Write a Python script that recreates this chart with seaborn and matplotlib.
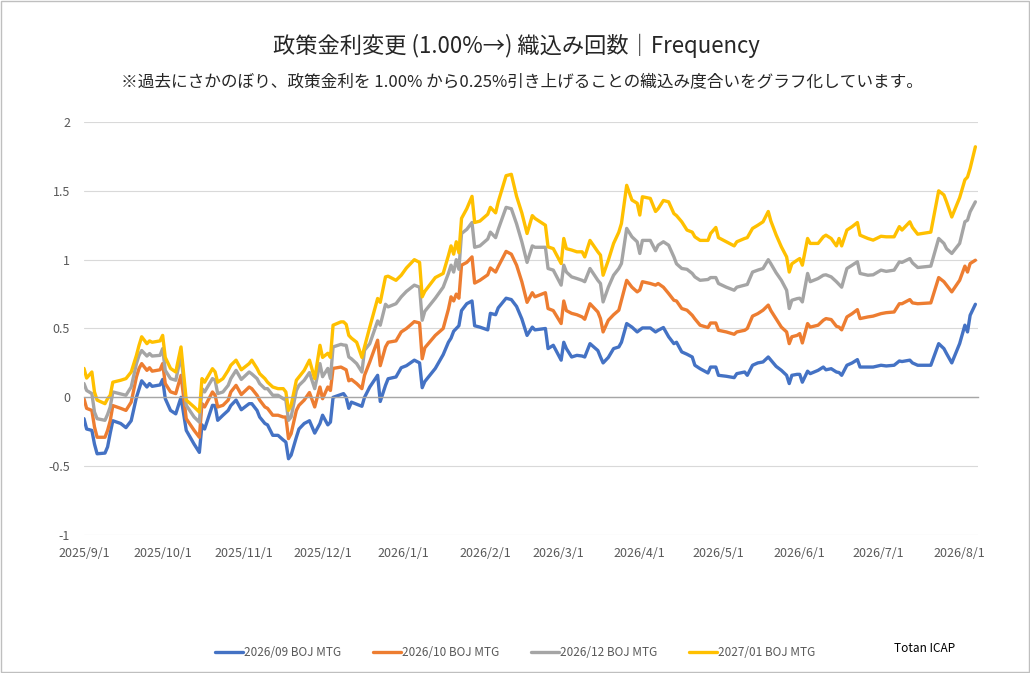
import matplotlib
matplotlib.use('Agg')
import matplotlib.pyplot as plt
import matplotlib.dates as mdates
import seaborn as sns
import pandas as pd
from matplotlib.patches import Rectangle

# ---------------- data ----------------
dates = [
    '2025-09-01', '2025-09-02', '2025-09-04', '2025-09-05', '2025-09-06', '2025-09-09', '2025-09-10',
    '2025-09-11', '2025-09-12', '2025-09-15', '2025-09-17', '2025-09-19', '2025-09-21', '2025-09-22',
    '2025-09-23', '2025-09-25', '2025-09-26', '2025-09-27', '2025-09-30', '2025-10-01', '2025-10-02',
    '2025-10-04', '2025-10-06', '2025-10-08', '2025-10-10', '2025-10-13', '2025-10-15',
    '2025-10-16', '2025-10-17', '2025-10-20', '2025-10-21', '2025-10-22', '2025-10-24', '2025-10-26',
    '2025-10-27', '2025-10-29', '2025-10-31', '2025-11-03', '2025-11-04', '2025-11-06', '2025-11-07',
    '2025-11-09', '2025-11-10', '2025-11-12', '2025-11-14', '2025-11-16', '2025-11-17', '2025-11-18',
    '2025-11-19', '2025-11-21', '2025-11-22', '2025-11-24', '2025-11-26',
    '2025-11-28', '2025-11-30', '2025-12-01', '2025-12-03', '2025-12-04', '2025-12-05', '2025-12-08',
    '2025-12-09', '2025-12-10', '2025-12-11', '2025-12-12', '2025-12-14', '2025-12-16', '2025-12-17',
    '2025-12-19', '2025-12-22', '2025-12-23', '2025-12-25', '2025-12-26', '2025-12-29', '2025-12-31',
    '2026-01-02', '2026-01-05', '2026-01-07', '2026-01-08', '2026-01-09',
    '2026-01-13', '2026-01-16', '2026-01-18', '2026-01-19', '2026-01-20', '2026-01-21', '2026-01-22',
    '2026-01-23', '2026-01-25', '2026-01-27', '2026-01-28', '2026-01-30', '2026-02-02', '2026-02-03',
    '2026-02-05', '2026-02-06', '2026-02-09', '2026-02-11', '2026-02-13', '2026-02-15', '2026-02-17',
    '2026-02-19', '2026-02-20', '2026-02-24',
    '2026-02-25', '2026-02-27', '2026-03-02', '2026-03-03', '2026-03-04', '2026-03-06', '2026-03-08',
    '2026-03-10', '2026-03-11', '2026-03-13', '2026-03-16', '2026-03-17', '2026-03-18', '2026-03-20',
    '2026-03-22', '2026-03-24', '2026-03-25', '2026-03-27', '2026-03-29', '2026-03-31', '2026-04-01',
    '2026-04-02', '2026-04-05', '2026-04-07', '2026-04-08',
    '2026-04-10', '2026-04-12', '2026-04-14', '2026-04-15', '2026-04-17', '2026-04-19', '2026-04-21',
    '2026-04-22', '2026-04-24', '2026-04-27', '2026-04-28', '2026-04-30', '2026-05-01', '2026-05-04',
    '2026-05-07', '2026-05-08', '2026-05-11', '2026-05-12', '2026-05-14', '2026-05-16', '2026-05-18',
    '2026-05-20', '2026-05-21', '2026-05-23',
    '2026-05-25', '2026-05-27', '2026-05-28', '2026-05-29', '2026-05-31', '2026-06-01', '2026-06-02',
    '2026-06-04', '2026-06-05', '2026-06-08', '2026-06-10', '2026-06-11', '2026-06-13', '2026-06-15',
    '2026-06-16', '2026-06-17', '2026-06-19', '2026-06-21', '2026-06-23', '2026-06-24', '2026-06-27',
    '2026-06-29', '2026-07-02',
    '2026-07-04', '2026-07-07', '2026-07-09', '2026-07-10', '2026-07-13', '2026-07-14', '2026-07-16',
    '2026-07-21', '2026-07-24', '2026-07-26', '2026-07-27', '2026-07-29', '2026-08-01', '2026-08-03',
    '2026-08-04', '2026-08-05', '2026-08-07',
]

mtg_2026_09 = [
    -0.155, -0.23, -0.24, -0.34, -0.41, -0.405, -0.36,
    -0.26, -0.17, -0.19, -0.22, -0.17, 0.0, 0.06,
    0.12, 0.075, 0.10, 0.08, 0.09, 0.13, -0.01,
    -0.095, -0.12, 0.0, -0.24, -0.34, -0.40,
    -0.20, -0.23, -0.058, -0.06, -0.167, -0.13, -0.095,
    -0.06, -0.02, -0.09, -0.046, -0.046, -0.095, -0.143,
    -0.19, -0.20, -0.276, -0.276, -0.31, -0.325, -0.446,
    -0.42, -0.29, -0.23, -0.19, -0.17,
    -0.26, -0.19, -0.13, -0.20, -0.18, 0.0, 0.02,
    0.027, 0.0, -0.08, -0.035, -0.05, -0.065, 0.0,
    0.075, 0.16, -0.03, 0.087, 0.135, 0.148, 0.215,
    0.23, 0.27, 0.25, 0.07, 0.115,
    0.21, 0.31, 0.40, 0.43, 0.48, 0.50, 0.52,
    0.63, 0.68, 0.70, 0.52, 0.51, 0.49, 0.61,
    0.60, 0.65, 0.72, 0.71, 0.66, 0.57, 0.45,
    0.51, 0.49, 0.50,
    0.354, 0.378, 0.27, 0.40, 0.354, 0.293, 0.305,
    0.30, 0.293, 0.39, 0.34, 0.293, 0.25, 0.29,
    0.354, 0.366, 0.40, 0.536, 0.51, 0.475, 0.49,
    0.504, 0.504, 0.475, 0.487,
    0.507, 0.44, 0.39, 0.40, 0.33, 0.313, 0.293,
    0.233, 0.208, 0.177, 0.22, 0.22, 0.16, 0.153,
    0.143, 0.172, 0.184, 0.16, 0.233, 0.25, 0.257,
    0.293, 0.27, 0.225,
    0.196, 0.16, 0.10, 0.16, 0.167, 0.167, 0.11,
    0.19, 0.172, 0.196, 0.22, 0.20, 0.208, 0.184,
    0.18, 0.16, 0.233, 0.25, 0.274, 0.22, 0.22,
    0.22, 0.233,
    0.228, 0.233, 0.264, 0.26, 0.27, 0.25, 0.233,
    0.233, 0.39, 0.354, 0.318, 0.25, 0.39, 0.524,
    0.475, 0.596, 0.676,
]

mtg_2026_10 = [
    -0.01, -0.08, -0.095, -0.215, -0.29, -0.29, -0.24,
    -0.17, -0.06, -0.08, -0.095, -0.035, 0.148, 0.21,
    0.245, 0.196, 0.215, 0.19, 0.20, 0.245, 0.10,
    0.04, 0.027, 0.16, -0.155, -0.24, -0.29,
    -0.046, -0.07, 0.039, 0.015, -0.07, -0.058, -0.02,
    0.039, 0.087, 0.02, 0.075, 0.063, 0.015, -0.02,
    -0.07, -0.08, -0.13, -0.13, -0.143, -0.143, -0.30,
    -0.264, -0.095, -0.058, -0.02, 0.035,
    -0.07, 0.075, -0.01, 0.075, 0.05, 0.21, 0.22,
    0.21, 0.20, 0.12, 0.13, 0.10, 0.063, 0.16,
    0.257, 0.415, 0.23, 0.366, 0.40, 0.41, 0.475,
    0.50, 0.55, 0.54, 0.28, 0.36,
    0.45, 0.50, 0.64, 0.73, 0.70, 0.75, 0.72,
    0.96, 0.98, 1.02, 0.83, 0.85, 0.89, 0.94,
    0.91, 0.95, 1.06, 1.04, 0.96, 0.84, 0.69,
    0.76, 0.73, 0.76,
    0.645, 0.63, 0.536, 0.70, 0.63, 0.61, 0.60,
    0.584, 0.567, 0.68, 0.62, 0.572, 0.475, 0.56,
    0.60, 0.633, 0.705, 0.85, 0.80, 0.766, 0.78,
    0.84, 0.827, 0.815, 0.827,
    0.80, 0.754, 0.705, 0.70, 0.645, 0.633, 0.596,
    0.57, 0.524, 0.507, 0.54, 0.54, 0.487, 0.475,
    0.458, 0.475, 0.487, 0.50, 0.59, 0.608, 0.633,
    0.67, 0.63, 0.57,
    0.51, 0.475, 0.39, 0.44, 0.45, 0.463, 0.395,
    0.536, 0.51, 0.524, 0.56, 0.572, 0.565, 0.516,
    0.51, 0.49, 0.584, 0.608, 0.637, 0.572, 0.584,
    0.59, 0.608,
    0.615, 0.62, 0.68, 0.68, 0.71, 0.686, 0.68,
    0.686, 0.87, 0.84, 0.815, 0.766, 0.85, 0.953,
    0.91, 0.972, 0.996,
]

mtg_2026_12 = [
    0.10, 0.05, 0.027, -0.107, -0.155, -0.167, -0.124,
    -0.07, 0.039, 0.025, 0.015, 0.075, 0.245, 0.305,
    0.34, 0.30, 0.318, 0.30, 0.305, 0.354, 0.196,
    0.136, 0.124, 0.305, -0.058, -0.143, -0.18,
    0.063, 0.039, 0.136, 0.124, 0.027, 0.039, 0.087,
    0.136, 0.196, 0.13, 0.184, 0.17, 0.136, 0.10,
    0.063, 0.063, 0.015, 0.015, -0.01, -0.02, -0.167,
    -0.143, 0.05, 0.087, 0.124, 0.18,
    0.063, 0.245, 0.15, 0.21, 0.136, 0.366, 0.385,
    0.38, 0.378, 0.293, 0.28, 0.245, 0.184, 0.342,
    0.39, 0.555, 0.524, 0.676, 0.657, 0.68, 0.73,
    0.77, 0.815, 0.80, 0.56, 0.625,
    0.72, 0.80, 0.90, 0.96, 0.91, 1.00, 0.93,
    1.19, 1.22, 1.27, 1.09, 1.10, 1.15, 1.20,
    1.16, 1.22, 1.38, 1.37, 1.26, 1.13, 0.98,
    1.10, 1.09, 1.09,
    0.936, 0.924, 0.815, 0.96, 0.91, 0.875, 0.863,
    0.85, 0.84, 0.936, 0.85, 0.827, 0.693, 0.80,
    0.887, 0.936, 0.972, 1.227, 1.166, 1.13, 1.045,
    1.14, 1.14, 1.065, 1.105,
    1.13, 1.105, 1.02, 0.97, 0.936, 0.93, 0.90,
    0.875, 0.85, 0.856, 0.87, 0.87, 0.827, 0.80,
    0.778, 0.80, 0.815, 0.82, 0.91, 0.924, 0.936,
    1.0, 0.97, 0.905,
    0.85, 0.778, 0.645, 0.705, 0.717, 0.72, 0.693,
    0.90, 0.84, 0.863, 0.887, 0.89, 0.875, 0.84,
    0.82, 0.80, 0.936, 0.96, 0.985, 0.90, 0.887,
    0.89, 0.924,
    0.915, 0.924, 0.984, 0.98, 1.008, 0.977, 0.943,
    0.953, 1.154, 1.118, 1.08, 1.045, 1.118, 1.275,
    1.287, 1.348, 1.42,
]

mtg_2027_01 = [
    0.21, 0.14, 0.184, 0.039, -0.02, -0.046, -0.01,
    0.015, 0.11, 0.124, 0.136, 0.184, 0.305, 0.378,
    0.44, 0.39, 0.41, 0.40, 0.41, 0.45, 0.29,
    0.21, 0.184, 0.366, -0.02, -0.07, -0.107,
    0.136, 0.11, 0.208, 0.185, 0.11, 0.136, 0.196,
    0.233, 0.27, 0.20, 0.245, 0.27, 0.21, 0.172,
    0.136, 0.11, 0.075, 0.063, 0.063, 0.039, -0.095,
    -0.058, 0.124, 0.148, 0.196, 0.27,
    0.136, 0.378, 0.29, 0.32, 0.29, 0.524, 0.548,
    0.548, 0.53, 0.45, 0.43, 0.40, 0.29, 0.366,
    0.51, 0.718, 0.69, 0.875, 0.88, 0.85, 0.887,
    0.94, 1.0, 0.98, 0.73, 0.77,
    0.87, 0.90, 1.03, 1.10, 1.04, 1.13, 1.05,
    1.30, 1.37, 1.46, 1.27, 1.28, 1.33, 1.38,
    1.34, 1.42, 1.61, 1.62, 1.46, 1.34, 1.19,
    1.32, 1.30, 1.25,
    1.093, 1.08, 0.972, 1.154, 1.08, 1.07, 1.057,
    1.057, 1.02, 1.14, 1.057, 1.033, 0.887, 0.996,
    1.118, 1.20, 1.263, 1.54, 1.433, 1.41, 1.324,
    1.457, 1.445, 1.35, 1.37,
    1.43, 1.42, 1.335, 1.32, 1.275, 1.215, 1.20,
    1.166, 1.14, 1.14, 1.19, 1.234, 1.16, 1.13,
    1.10, 1.13, 1.154, 1.16, 1.227, 1.25, 1.275,
    1.35, 1.28, 1.18,
    1.093, 1.02, 0.91, 0.97, 0.996, 1.008, 0.96,
    1.154, 1.118, 1.118, 1.166, 1.178, 1.154, 1.10,
    1.154, 1.10, 1.215, 1.24, 1.27, 1.178, 1.154,
    1.142, 1.17,
    1.166, 1.166, 1.24, 1.215, 1.275, 1.234, 1.185,
    1.20, 1.50, 1.47, 1.42, 1.31, 1.45, 1.58,
    1.60, 1.663, 1.82,
]

series_names = ['2026/09 BOJ MTG', '2026/10 BOJ MTG', '2026/12 BOJ MTG', '2027/01 BOJ MTG']
series_values = [mtg_2026_09, mtg_2026_10, mtg_2026_12, mtg_2027_01]
colors = ['#4472C4', '#ED7D31', '#A5A5A5', '#FFC000']

y_ticks = [-1, -0.5, 0, 0.5, 1, 1.5, 2]
y_tick_labels = ['-1', '-0.5', '0', '0.5', '1', '1.5', '2']
x_tick_dates = ['2025-09-01', '2025-10-01', '2025-11-01', '2025-12-01', '2026-01-01', '2026-02-01',
                '2026-03-01', '2026-04-01', '2026-05-01', '2026-06-01', '2026-07-01', '2026-08-01']
x_tick_labels = ['2025/9/1', '2025/10/1', '2025/11/1', '2025/12/1', '2026/1/1', '2026/2/1',
                 '2026/3/1', '2026/4/1', '2026/5/1', '2026/6/1', '2026/7/1', '2026/8/1']
x_range = ['2025-09-01', '2026-08-08']

title = '政策金利変更 (1.00%→) 織込み回数｜Frequency'
subtitle = '※過去にさかのぼり、政策金利を 1.00% から0.25%引き上げることの織込み度合いをグラフ化しています。'
source = 'Totan ICAP'

# ---------------- build long-form table ----------------
frames = []
for name, vals in zip(series_names, series_values):
    frames.append(pd.DataFrame({'date': pd.to_datetime(dates), 'value': vals, 'series': name}))
df = pd.concat(frames, ignore_index=True)

# ---------------- plot ----------------
sns.set_theme(style='white')
plt.rcParams['font.family'] = ['Noto Sans CJK JP', 'DejaVu Sans']

fig = plt.figure(figsize=(10.3, 6.73), dpi=100)
ax = fig.add_axes([84 / 1030, 1 - 535 / 673, (978 - 84) / 1030, (535 - 122) / 673])

sns.lineplot(data=df, x='date', y='value', hue='series', hue_order=series_names,
             palette=colors, linewidth=2.4, ax=ax, sort=True, estimator=None)

ax.set_xlim(pd.to_datetime(x_range[0]), pd.to_datetime(x_range[1]))
ax.set_ylim(-1, 2)
ax.set_yticks(y_ticks)
ax.set_yticklabels(y_tick_labels)
ax.set_xticks(pd.to_datetime(x_tick_dates))
ax.set_xticklabels(x_tick_labels)
ax.set_xlabel('')
ax.set_ylabel('')

ax.grid(axis='y', color='#d9d9d9', linewidth=0.8)
ax.grid(axis='x', visible=False)
for s in ['left', 'right', 'top']:
    ax.spines[s].set_visible(False)
ax.spines['bottom'].set_position(('data', 0))
ax.spines['bottom'].set_color('#a6a6a6')
ax.spines['bottom'].set_linewidth(1.0)
ax.set_axisbelow(True)

ax.tick_params(axis='y', length=0, labelsize=9, labelcolor='#595959', pad=10)
ax.tick_params(axis='x', direction='out', length=4, width=0.8, color='#a6a6a6',
               labelsize=9, labelcolor='#595959', pad=104)

handles, labels = ax.get_legend_handles_labels()
ax.legend(handles, labels, loc='center', bbox_to_anchor=(515 / 1030, 1 - 653 / 673),
          bbox_transform=fig.transFigure, ncol=4, frameon=False, fontsize=8.5,
          handlelength=2.4, handletextpad=0.05, columnspacing=2.7,
          labelcolor='#595959')

fig.text(516 / 1030, 1 - 46 / 673, title, ha='center', va='center', fontsize=16, color='#262626')
fig.text(522 / 1030, 1 - 82 / 673, subtitle, ha='center', va='center', fontsize=12, color='#262626')
fig.text(925 / 1030, 1 - 648 / 673, source, ha='center', va='center', fontsize=8.5, color='#000000')

fig.patches.append(Rectangle((0.001, 0.001), 0.998, 0.997, transform=fig.transFigure,
                             fill=False, edgecolor='#bfbfbf', linewidth=1.0))

fig.savefig('out.png', dpi=100)
